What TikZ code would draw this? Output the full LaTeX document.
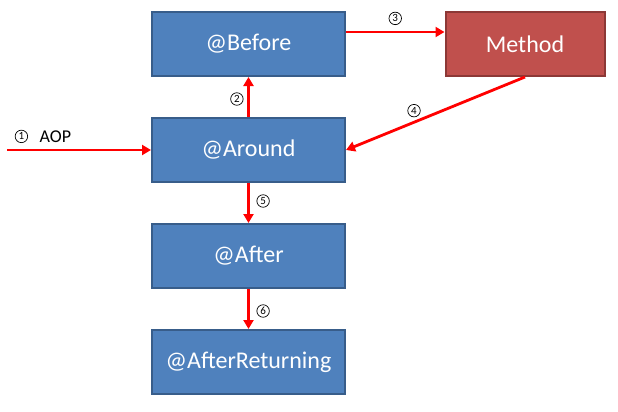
\documentclass[tikz,border=0pt]{standalone}
\usepackage{fontspec}
\setmainfont{Carlito}
\usetikzlibrary{arrows.meta}
\definecolor{boxblue}{HTML}{4F81BD}
\definecolor{blueedge}{HTML}{385D8A}
\definecolor{boxred}{HTML}{C0504D}
\definecolor{rededge}{HTML}{8C3836}

\begin{document}
\begin{tikzpicture}[x=1pt,y=-1pt,
  advice/.style={draw=blueedge, fill=boxblue, line width=2pt, minimum width=193pt, minimum height=64pt,
    text=white, font=\fontsize{24}{28}\selectfont},
  target/.style={advice, draw=rededge, fill=boxred, minimum width=159pt},
  flow/.style={draw=red, line width=2.8pt, -{Triangle[length=9pt,width=10pt]}},
  num/.style={text=black, font=\fontsize{18}{20}\selectfont},
  stepno/.style={circle, draw=black, line width=0.7pt, minimum size=12.5pt, inner sep=0pt,
    text=black, font=\fontsize{11}{12}\selectfont}]
\useasboundingbox (0,0) rectangle (618,412);
\node[advice] (Before) at (248.5,44) {@Before};
\node[target] (Method) at (525,44) {Method};
\node[advice] (Around) at (248.5,150) {@Around};
\node[advice] (After) at (248.5,256) {@After};
\node[advice] (Returning) at (248.5,362) {@AfterReturning};
\coordinate (Start) at (7,150);
\coordinate (BeforeOut) at ([yshift=12pt]Before.east);
\path[every edge/.style={flow}]
(Start) edge node[stepno, pos=0.1, above=7pt, label={[num, xshift=7pt]right:AOP}] {1} (Around)
(Around) edge node[stepno, left=5pt, yshift=-2pt] {2} (Before)
(BeforeOut) edge node[stepno, above=7pt] {3} (BeforeOut -| Method.west)
(Method.south) edge node[stepno, pos=0.62, above=5pt] {4} (Around.east)
(Around) edge node[stepno, right=8pt, yshift=2pt] {5} (After)
(After) edge node[stepno, right=8pt, yshift=-2pt] {6} (Returning);
\end{tikzpicture}
\end{document}
